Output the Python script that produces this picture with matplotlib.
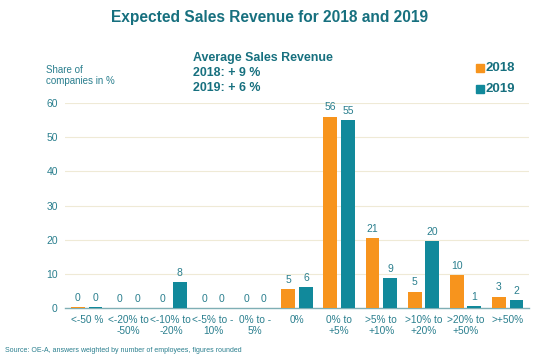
import numpy as np
import matplotlib.pyplot as plt

# Daten
categories = ["<-50 %", "<-20% to\n-50%", "<-10% to\n-20%", "<-5% to -\n10%", "0% to -\n5%",
              "0%", "0% to\n+5%", ">5% to\n+10%", ">10% to\n+20%", ">20% to\n+50%", ">+50%"]
values_2018 = [0.3, 0, 0, 0, 0, 5.5, 56, 20.5, 4.8, 9.6, 3.4]
values_2019 = [0.3, 0, 7.6, 0, 0, 6.2, 55, 8.8, 19.6, 0.6, 2.4]
labels_2018 = ["0", "0", "0", "0", "0", "5", "56", "21", "5", "10", "3"]
labels_2019 = ["0", "0", "8", "0", "0", "6", "55", "9", "20", "1", "2"]

plt.rcParams['font.family'] = ['Liberation Sans', 'DejaVu Sans']

orange = "#F7941D"
teal = "#11899B"
txt = "#2A7F8E"
title_c = "#17707F"

fig = plt.figure(figsize=(5.4, 3.6), dpi=100)
ax = fig.add_axes([0.12, 0.144, 0.859, 0.570])

x = np.arange(len(categories))
w = 0.33
gap = 0.09
b1 = ax.bar(x - w/2 - gap/2, values_2018, w, color=orange, zorder=3)
b2 = ax.bar(x + w/2 + gap/2, values_2019, w, color=teal, zorder=3)

for rect, lab in zip(b1, labels_2018):
    ax.text(rect.get_x() + rect.get_width()/2, rect.get_height() + 1.3, lab,
            ha='center', va='bottom', fontsize=7.5, color=txt, clip_on=False)
for rect, lab in zip(b2, labels_2019):
    ax.text(rect.get_x() + rect.get_width()/2, rect.get_height() + 1.3, lab,
            ha='center', va='bottom', fontsize=7.5, color=txt, clip_on=False)

ax.set_ylim(0, 60)
ax.set_xlim(-0.52, len(categories) - 0.5)
ax.set_yticks(np.arange(0, 61, 10))
ax.yaxis.grid(True, color="#EFEAD6", lw=0.8, zorder=0)
ax.set_xticks(x)
ax.set_xticklabels(categories, fontsize=7.3, color=txt, linespacing=1.1)
ax.tick_params(axis='y', labelsize=7.5, labelcolor=txt, length=0, pad=5)
ax.tick_params(axis='x', length=0, pad=5)
for s in ['top', 'right', 'left']:
    ax.spines[s].set_visible(False)
ax.spines['bottom'].set_color("#7FAFB5")
ax.spines['bottom'].set_linewidth(1.0)

fig.text(0.5, 0.952, "Expected Sales Revenue for 2018 and 2019", ha='center', va='center',
         fontsize=11.2, fontweight='bold', color=title_c)
fig.text(0.085, 0.79, "Share of\ncompanies in %", ha='left', va='center',
         fontsize=7, color=txt, linespacing=1.1)
fig.text(0.357, 0.797, "Average Sales Revenue\n2018: + 9 %\n2019: + 6 %", ha='left', va='center',
         fontsize=8.9, fontweight='bold', color=title_c, linespacing=1.35)

# Legende
fig.patches.append(plt.Rectangle((0.882, 0.800), 0.014, 0.022, color=orange,
                                 transform=fig.transFigure, figure=fig))
fig.patches.append(plt.Rectangle((0.882, 0.742), 0.014, 0.022, color=teal,
                                 transform=fig.transFigure, figure=fig))
fig.text(0.9, 0.81, "2018", ha='left', va='center', fontsize=9.5, fontweight='bold', color=title_c)
fig.text(0.9, 0.752, "2019", ha='left', va='center', fontsize=9.5, fontweight='bold', color=title_c)

fig.text(0.01, 0.027, "Source: OE-A, answers weighted by number of employees, figures rounded",
         ha='left', va='center', fontsize=5, color=txt)

fig.savefig("out.png", dpi=100)
